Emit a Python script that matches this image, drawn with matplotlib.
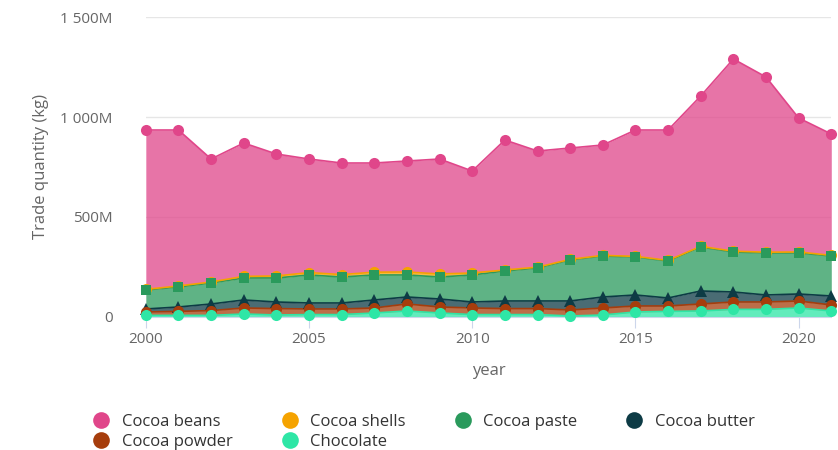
import matplotlib.pyplot as plt
import numpy as np
from matplotlib.lines import Line2D
from matplotlib.ticker import FuncFormatter

# Данные (млн кг)
years = list(range(2000, 2022))
chocolate = [8, 8, 8, 15, 10, 12, 12, 20, 30, 20, 12, 12, 12, 5, 10, 25, 28, 30, 38, 38, 45, 30]
cocoa_powder = [17, 20, 24, 30, 32, 28, 28, 25, 35, 30, 33, 30, 30, 30, 35, 30, 27, 35, 37, 37, 35, 30]
cocoa_butter = [15, 22, 33, 40, 33, 30, 30, 40, 35, 40, 30, 38, 38, 45, 55, 55, 40, 65, 50, 35, 35, 45]
cocoa_paste = [95, 100, 105, 110, 120, 140, 130, 125, 110, 110, 135, 150, 165, 205, 205, 190, 185, 220, 200, 210, 205, 200]
cocoa_shells = [3, 5, 5, 8, 10, 12, 12, 14, 15, 15, 10, 5, 4, 3, 3, 3, 3, 3, 4, 4, 5, 3]
cocoa_beans = [797, 780, 615, 667, 610, 568, 558, 546, 555, 575, 510, 650, 581, 557, 552, 632, 652, 752, 961, 876, 670, 607]

# Порядок снизу вверх: (имя, значения, цвет, маркер, размер маркера)
SERIES = [
    ("Chocolate", chocolate, "#2ee6a6", "o", 8),
    ("Cocoa powder", cocoa_powder, "#a63d0c", "o", 8),
    ("Cocoa butter", cocoa_butter, "#0d3b45", "^", 8),
    ("Cocoa paste", cocoa_paste, "#2a9a5c", "s", 7.5),
    ("Cocoa shells", cocoa_shells, "#f5a300", "o", 8),
    ("Cocoa beans", cocoa_beans, "#e0468a", "o", 8),
]
LEGEND_ORDER = ["Cocoa beans", "Cocoa shells", "Cocoa paste",
                "Cocoa butter", "Cocoa powder", "Chocolate"]

TEXT_COLOR = "#666666"
GRID_COLOR = "#e6e6e6"

plt.rcParams['font.family'] = ['Open Sans', 'DejaVu Sans']

fig = plt.figure(figsize=(8.38, 4.5), dpi=100)
ax = fig.add_axes([0.174, 0.2956, 0.818, 0.6666])

x = np.array(years)
base = np.zeros(len(years))
tops = {}
for i, (name, vals, color, marker, ms) in enumerate(SERIES):
    top = base + np.array(vals)
    ax.fill_between(x, base, top, color=color, alpha=0.75, lw=0, zorder=2 + i * 0.01)
    ax.plot(x, top, color=color, lw=1.2, zorder=3 + i * 0.01)
    tops[name] = top
    base = top

# Маркеры: серии, идущие позже в легенде, рисуются поверх
for name, vals, color, marker, ms in SERIES:
    z = 5 + LEGEND_ORDER.index(name) * 0.01
    ax.plot(x, tops[name], linestyle="none", marker=marker, markersize=ms,
            color=color, markeredgewidth=0, zorder=z, clip_on=False)

ax.set_xlim(2000, 2021)
ax.set_ylim(0, 1500)
ax.set_yticks([0, 500, 1000, 1500])
ax.yaxis.set_major_formatter(FuncFormatter(
    lambda v, pos: "0" if v == 0 else f"{int(v):,}M".replace(",", " ")))
ax.set_xticks([2000, 2005, 2010, 2015, 2020])
ax.grid(axis='y', color=GRID_COLOR, lw=1, zorder=0)
ax.set_axisbelow(True)

for spine in ["top", "right", "left"]:
    ax.spines[spine].set_visible(False)
ax.spines["bottom"].set_color("#ccd6eb")
ax.tick_params(axis='y', length=0, labelsize=11, colors=TEXT_COLOR, pad=24)
ax.tick_params(axis='x', length=8, color="#ccd6eb", labelsize=11,
               labelcolor=TEXT_COLOR, pad=3)

ax.set_xlabel("year", fontsize=12, color=TEXT_COLOR, labelpad=11)
ax.set_ylabel("Trade quantity (kg)", fontsize=12, color=TEXT_COLOR, labelpad=8)

# Легенда (заполнение по строкам: matplotlib раскладывает по столбцам)
colors = {s[0]: s[2] for s in SERIES}
col_order = ["Cocoa beans", "Cocoa powder", "Cocoa shells", "Chocolate",
             "Cocoa paste", "Cocoa butter"]
handles = [Line2D([], [], linestyle="none", marker="o", markersize=12,
                  color=colors[n], markeredgewidth=0) for n in col_order]
fig.legend(handles, col_order, loc="upper left", bbox_to_anchor=(0.095, 0.113),
           ncol=4, frameon=False, fontsize=12, handlelength=0.8,
           handletextpad=0.85, columnspacing=3.0, labelspacing=0.22,
           labelcolor="#333333")

fig.savefig("out.png", dpi=100)
